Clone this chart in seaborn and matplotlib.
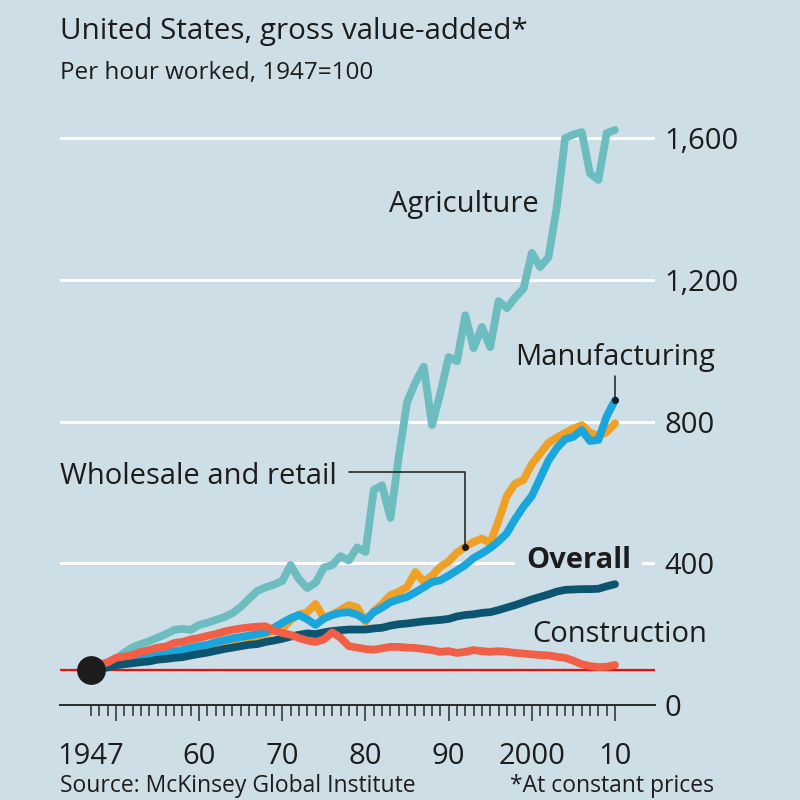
import numpy as np
import pandas as pd
import matplotlib
matplotlib.use('Agg')
import matplotlib.pyplot as plt
import seaborn as sns

# index of gross value-added per hour worked, 1947=100
years = list(range(1947, 2011))

agriculture = [100, 112, 120, 130, 148, 163, 172, 180, 190, 200,
               212, 215, 212, 226, 232, 240, 248, 259, 277, 300,
               322, 332, 340, 350, 395, 355, 330, 345, 388, 395,
               420, 408, 445, 432, 607, 620, 528, 700, 855, 910,
               955, 790, 880, 982, 970, 1100, 1007, 1067, 1010, 1140,
               1120, 1150, 1175, 1276, 1236, 1264, 1405, 1600, 1610, 1617,
               1500, 1482, 1614, 1623]

wholesale = [100, 104, 108, 114, 118, 124, 130, 134, 140, 143,
             147, 150, 156, 160, 165, 170, 176, 180, 184, 188,
             192, 200, 210, 215, 240, 255, 262, 285, 246, 255,
             268, 282, 275, 235, 265, 285, 310, 320, 333, 375,
             348, 365, 390, 405, 430, 446, 460, 470, 457, 520,
             590, 625, 635, 680, 710, 740, 755, 768, 780, 790,
             768, 760, 770, 795]

manufacturing = [100, 105, 110, 118, 122, 128, 135, 140, 145, 148,
                 152, 155, 162, 166, 170, 177, 183, 188, 192, 196,
                 200, 205, 218, 232, 245, 254, 242, 226, 244, 254,
                 260, 262, 255, 240, 262, 275, 290, 298, 305, 318,
                 332, 347, 352, 365, 380, 395, 415, 428, 443, 462,
                 485, 525, 560, 590, 640, 690, 725, 750, 757, 776,
                 745, 748, 815, 860]

overall = [100, 103, 106, 112, 115, 118, 121, 123, 128, 130,
           133, 135, 140, 144, 148, 153, 158, 162, 166, 170,
           172, 178, 182, 187, 193, 198, 202, 200, 205, 209,
           211, 213, 213, 213, 216, 218, 224, 228, 230, 233,
           236, 238, 240, 243, 250, 254, 256, 260, 262, 268,
           275, 282, 290, 298, 305, 312, 320, 325, 326, 327,
           327, 328, 335, 341]

construction = [100, 115, 120, 133, 137, 141, 150, 155, 162, 165,
                175, 178, 185, 189, 195, 200, 207, 212, 216, 219,
                221, 222, 210, 203, 198, 189, 182, 178, 185, 205,
                190, 166, 162, 158, 156, 160, 164, 164, 162, 161,
                158, 155, 150, 152, 147, 150, 155, 152, 150, 152,
                150, 147, 145, 143, 141, 140, 136, 133, 125, 115,
                110, 107, 108, 113]

ytick_vals = [0, 400, 800, 1200, 1600]
ytick_labels = ['0', '400', '800', '1,200', '1,600']
xtick_vals = [1947, 1950, 1960, 1970, 1980, 1990, 2000, 2010]
xtick_labels = ['1947', '', '60', '70', '80', '90', '2000', '10']

df = pd.DataFrame({'year': years,
                   'Agriculture': agriculture,
                   'Wholesale and retail': wholesale,
                   'Manufacturing': manufacturing,
                   'Overall': overall,
                   'Construction': construction})
df = df.melt(id_vars='year', var_name='sector', value_name='value')

bg = '#cddee6'
ink = '#1c1c1c'
colors = {'Agriculture': '#6cbcc0',
          'Wholesale and retail': '#eea125',
          'Manufacturing': '#1aa6dc',
          'Overall': '#0c5470',
          'Construction': '#f05f46'}

sns.set_theme(style='white', rc={'axes.facecolor': bg, 'figure.facecolor': bg})
plt.rcParams['font.family'] = ['Open Sans', 'DejaVu Sans']

fig = plt.figure(figsize=(8, 8), dpi=100)
ax = fig.add_axes([0.075, 0.11875, 0.74375, 0.75295])
ax.set_xlim(1947 - 31 / 8.317, 2010 + 40 / 8.317)
ax.set_ylim(0, 1700)

# white gridlines, dark zero line
ax.set_axisbelow(True)
ax.set_yticks(ytick_vals)
ax.set_yticklabels(ytick_labels)
ax.yaxis.grid(True, color='white', lw=2.2)
ax.xaxis.grid(False)
for s in ['left', 'right', 'top']:
    ax.spines[s].set_visible(False)
ax.spines['bottom'].set_color('#2a2a2a')
ax.spines['bottom'].set_linewidth(1.4)
ax.yaxis.tick_right()
ax.tick_params(axis='y', length=0, pad=7, labelsize=21, labelcolor=ink)

ax.axhline(100, color='#e3120b', lw=1.6, zorder=2)

# draw order: agriculture at the back, construction on top
for i, sector in enumerate(colors):
    sub = df[df['sector'] == sector]
    sns.lineplot(data=sub, x='year', y='value', color=colors[sector], lw=5.6,
                 ax=ax, zorder=3 + i, legend=False)
    ax.lines[-1].set_solid_joinstyle('round')
ax.scatter([years[0]], [overall[0]], s=430, color=ink, zorder=10, lw=0)

ax.set_xticks(xtick_vals)
ax.set_xticklabels(xtick_labels)
ax.set_xticks(range(1947, 2011), minor=True)
ax.tick_params(axis='x', which='major', direction='out', length=11.5, width=1.1,
               color='#2a2a2a', pad=15, labelsize=21, labelcolor=ink, bottom=True)
ax.tick_params(axis='x', which='minor', direction='out', length=8, width=1.1,
               color='#2a2a2a', bottom=True)
ax.set_xlabel('')
ax.set_ylabel('')

# labels
ax.text(1982.8, 1391, 'Agriculture', fontsize=21, color=ink, va='baseline')
ax.text(1997.96, 959, 'Manufacturing', fontsize=21, color=ink, va='baseline')
ax.plot([years[-1], years[-1]], [928, manufacturing[-1]], color=ink, lw=1.1, zorder=12)
ax.plot([years[-1]], [manufacturing[-1]], 'o', color=ink, ms=4, zorder=12)

i92 = years.index(1992)
ax.text(ax.get_xlim()[0], 624, 'Wholesale and retail', fontsize=21, color=ink, va='baseline')
ax.plot([1978.0, 1992, 1992], [657.5, 657.5, wholesale[i92]], color=ink, lw=1.1, zorder=12)
ax.plot([1992], [wholesale[i92]], 'o', color=ink, ms=4, zorder=12)

ax.text(1999.3, 387, 'Overall', fontsize=21, fontweight='bold', color=ink, va='baseline',
        zorder=2.5, bbox=dict(fc=bg, ec='none', pad=8))
ax.text(2000.1, 178, 'Construction', fontsize=21, color=ink, va='baseline')

fig.text(0.075, 1 - 39 / 800, 'United States, gross value-added*', fontsize=21.3,
         color=ink, va='baseline')
fig.text(0.075, 1 - 79 / 800, 'Per hour worked, 1947=100', fontsize=17.5,
         color=ink, va='baseline')
fig.text(0.075, 1 - 792 / 800, 'Source: McKinsey Global Institute', fontsize=16.5,
         color=ink, va='baseline')
fig.text(510 / 800, 1 - 792 / 800, '*At constant prices', fontsize=16.5,
         color=ink, va='baseline')

ax.xaxis.get_major_ticks()[0].tick1line.set_markersize(8)

plt.savefig('out.png', dpi=100)
